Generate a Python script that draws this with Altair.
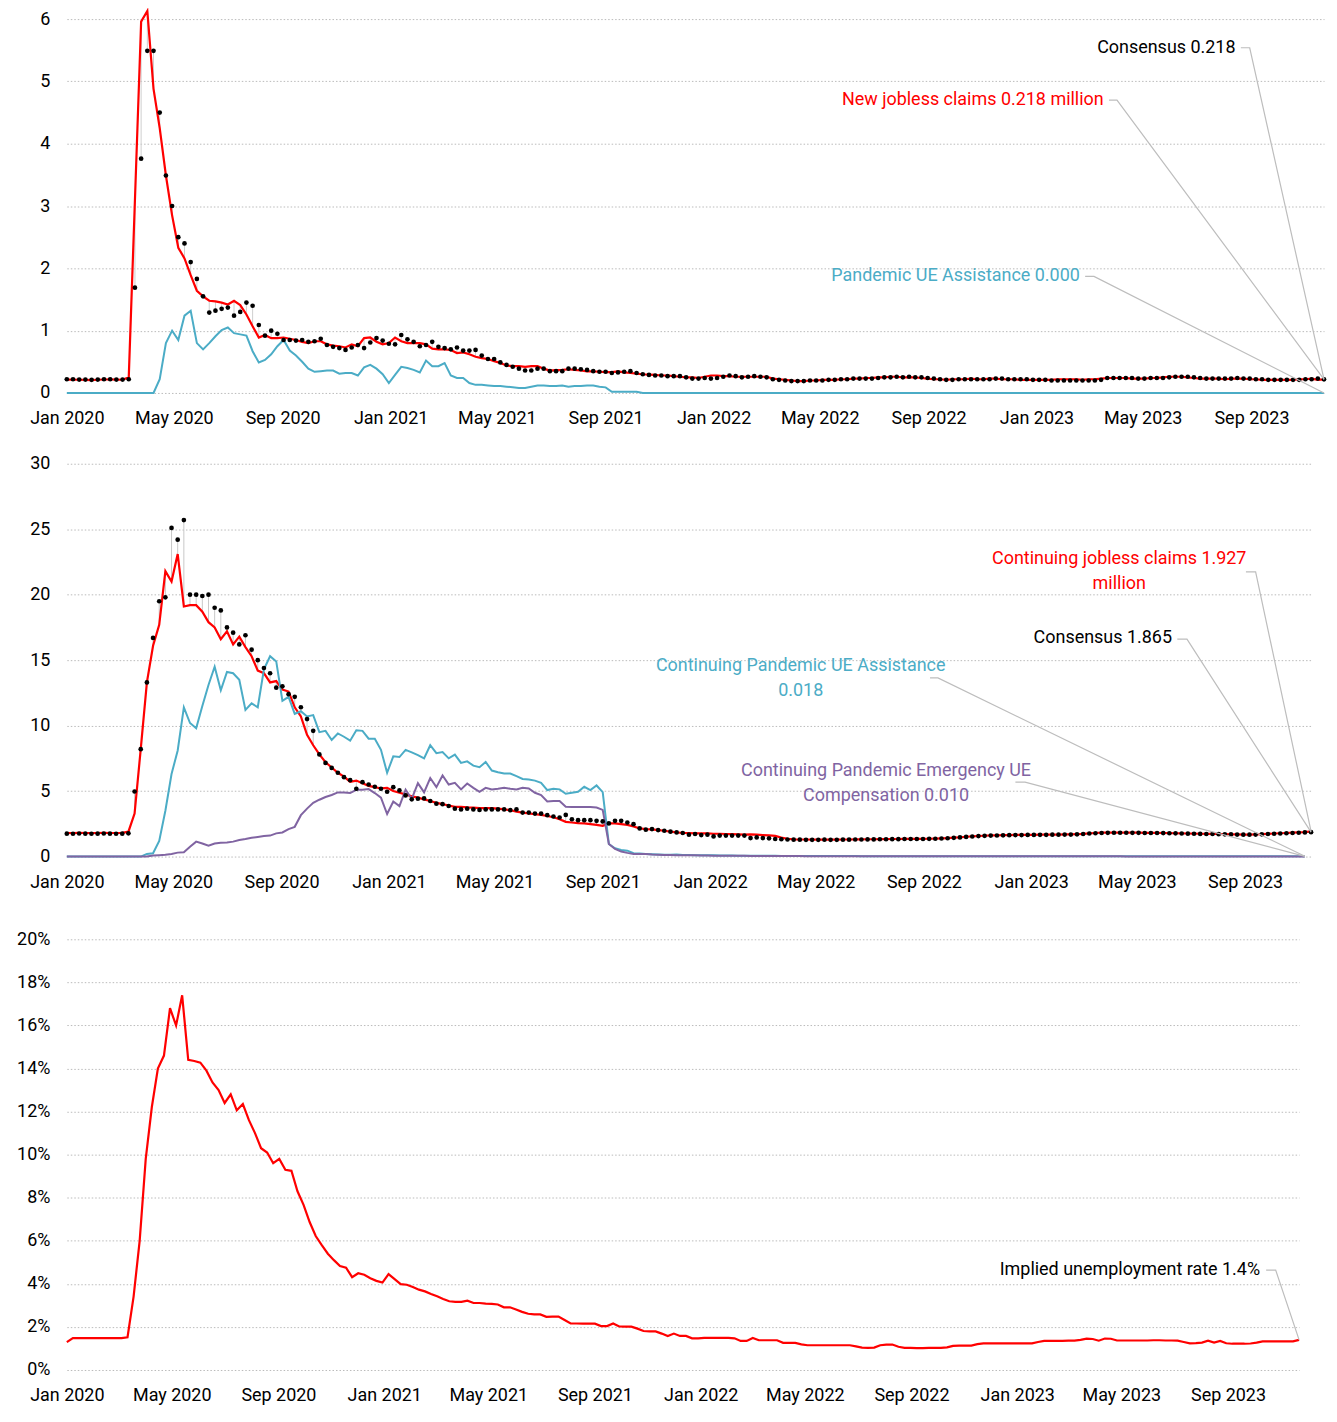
import altair as alt
import pandas as pd

FONT = "Roboto"
RED = "#ff0000"
BLUE = "#4bacc6"
PURPLE = "#8064a2"
GRID = "#bbbbbb"
LEADER = "#bdbdbd"

# ---------------- data (weekly, starting 2020-01-01) ----------------
claims_actual = [
    0.214, 0.216, 0.212, 0.210, 0.206, 0.212, 0.216, 0.218, 0.214, 0.212,
    0.25, 3.10, 5.96, 6.13, 4.88, 4.25, 3.49, 2.85, 2.33, 2.16,
    1.89, 1.64, 1.55, 1.48, 1.47, 1.45, 1.42, 1.48, 1.41, 1.26,
    1.07, 0.89, 0.93, 0.88, 0.88, 0.89, 0.87, 0.85, 0.82, 0.80,
    0.83, 0.83, 0.78, 0.76, 0.75, 0.73, 0.78, 0.75, 0.88, 0.89,
    0.82, 0.78, 0.80, 0.89, 0.83, 0.80, 0.80, 0.80, 0.78, 0.71,
    0.70, 0.70, 0.69, 0.64, 0.65, 0.62, 0.58, 0.56, 0.545, 0.51,
    0.48, 0.44, 0.43, 0.43, 0.42, 0.43, 0.43, 0.39, 0.36, 0.365,
    0.37, 0.38, 0.37, 0.36, 0.345, 0.345, 0.34, 0.335, 0.335, 0.345,
    0.33, 0.32, 0.31, 0.30, 0.295, 0.29, 0.28, 0.28, 0.27, 0.26,
    0.25, 0.25, 0.24, 0.26, 0.28, 0.28, 0.27, 0.27, 0.26, 0.26,
    0.26, 0.26, 0.26, 0.26,
    0.23, 0.22, 0.21, 0.20, 0.19, 0.19, 0.20,
    0.20, 0.21, 0.21, 0.21, 0.22, 0.22, 0.23, 0.23, 0.24, 0.24,
    0.25, 0.25, 0.26, 0.26, 0.25, 0.25, 0.25, 0.24, 0.23, 0.22,
    0.22, 0.21, 0.22, 0.22, 0.22, 0.23, 0.22, 0.22, 0.23, 0.23,
    0.22, 0.22, 0.22, 0.21, 0.21, 0.21, 0.21, 0.21, 0.21, 0.22,
    0.22, 0.22, 0.22, 0.21, 0.22, 0.22, 0.23, 0.24, 0.24, 0.24,
    0.24, 0.23, 0.23, 0.23, 0.24, 0.24, 0.25, 0.26, 0.26, 0.26,
    0.25, 0.24, 0.23, 0.23, 0.23, 0.23, 0.22, 0.23, 0.23, 0.23,
    0.22, 0.22, 0.21, 0.21, 0.21, 0.21, 0.21, 0.21, 0.22, 0.22,
    0.23, 0.21, 0.218,
]
claims_consensus = [
    0.22, 0.22, 0.215, 0.215, 0.21, 0.215, 0.22, 0.22, 0.215, 0.215,
    0.22, 1.69, 3.76, 5.49, 5.49, 4.50, 3.49, 3.00, 2.50, 2.40,
    2.10, 1.83, 1.55, 1.29, 1.32, 1.35, 1.37, 1.24, 1.30, 1.45,
    1.40, 1.09, 0.92, 1.00, 0.95, 0.85, 0.85, 0.84, 0.85, 0.82,
    0.83, 0.87, 0.77, 0.74, 0.72, 0.69, 0.73, 0.77, 0.72, 0.81,
    0.88, 0.84, 0.79, 0.78, 0.93, 0.86, 0.82, 0.75, 0.77, 0.82,
    0.74, 0.72, 0.70, 0.73, 0.68, 0.68, 0.69, 0.60, 0.545, 0.545,
    0.49, 0.45, 0.42, 0.39, 0.36, 0.36, 0.39, 0.39, 0.35, 0.35,
    0.35, 0.39, 0.39, 0.38, 0.37, 0.35, 0.34, 0.34, 0.32, 0.33,
    0.34, 0.35, 0.32, 0.30, 0.29, 0.28, 0.28, 0.27, 0.27, 0.27,
    0.25, 0.23, 0.23, 0.24, 0.23, 0.24, 0.26, 0.28, 0.27, 0.25,
    0.26, 0.27, 0.26, 0.25,
    0.22, 0.21, 0.20, 0.19, 0.19, 0.19, 0.20,
    0.20, 0.20, 0.21, 0.21, 0.22, 0.22, 0.23, 0.23, 0.23, 0.23,
    0.24, 0.25, 0.25, 0.26, 0.25, 0.26, 0.25, 0.25, 0.24, 0.23,
    0.22, 0.21, 0.21, 0.22, 0.22, 0.22, 0.22, 0.22, 0.22, 0.23,
    0.23, 0.22, 0.22, 0.22, 0.22, 0.21, 0.21, 0.21, 0.20, 0.20,
    0.20, 0.20, 0.20, 0.20, 0.20, 0.20, 0.21, 0.24, 0.24, 0.24,
    0.24, 0.24, 0.23, 0.23, 0.24, 0.24, 0.24, 0.25, 0.26, 0.26,
    0.26, 0.25, 0.24, 0.23, 0.23, 0.23, 0.23, 0.23, 0.24, 0.23,
    0.23, 0.22, 0.22, 0.21, 0.21, 0.21, 0.21, 0.21, 0.21, 0.22,
    0.22, 0.23, 0.218,
]
pua_initial = [0.0] * 15 + [
    0.22, 0.80, 1.00, 0.85, 1.24, 1.32, 0.80, 0.70, 0.80, 0.91,
    1.01, 1.05, 0.96, 0.94, 0.92, 0.67, 0.49, 0.53, 0.62, 0.75,
    0.85, 0.68, 0.60, 0.50, 0.39, 0.34, 0.35, 0.36, 0.36, 0.31,
    0.32, 0.32, 0.28, 0.41, 0.45, 0.39, 0.30, 0.16, 0.29, 0.42,
    0.40, 0.37, 0.33, 0.52, 0.43, 0.43, 0.48, 0.28, 0.24, 0.24,
    0.16, 0.13, 0.13, 0.12, 0.11, 0.11, 0.10, 0.09, 0.08, 0.08,
    0.10, 0.12, 0.12, 0.11, 0.11, 0.12, 0.10, 0.11, 0.11, 0.12,
    0.12, 0.10, 0.09, 0.02, 0.02, 0.02, 0.02, 0.02,
] + [0.0] * 111

cont_actual = [
    1.80, 1.79, 1.81, 1.80, 1.79, 1.80, 1.81, 1.80, 1.80, 1.81,
    1.90, 3.28, 8.2, 13.3, 16.1, 17.7, 21.8, 21.0, 23.1, 19.1,
    19.2, 19.2, 18.7, 17.9, 17.5, 16.6, 17.2, 16.2, 16.8, 16.0,
    15.3, 14.2, 14.0, 13.3, 13.4, 12.75, 12.6, 11.4, 10.7, 9.3,
    8.5, 7.8, 7.2, 6.8, 6.4, 6.1, 5.7, 5.8, 5.6, 5.4,
    5.3, 5.2, 5.25, 5.0, 4.87, 4.75, 4.6, 4.5, 4.37, 4.24,
    4.1, 4.0, 3.9, 3.8, 3.8, 3.76, 3.74, 3.7, 3.7, 3.7,
    3.66, 3.6, 3.54, 3.43, 3.36, 3.3, 3.23, 3.18, 3.1, 3.0,
    2.85, 2.65, 2.6, 2.55, 2.53, 2.47, 2.42, 2.35, 2.53, 2.53,
    2.47, 2.42, 2.3, 2.15, 2.1, 2.07, 2.02, 1.97, 1.9, 1.84,
    1.8, 1.8, 1.77, 1.77, 1.77, 1.74, 1.74, 1.72, 1.72, 1.7,
    1.67, 1.7, 1.67, 1.64, 1.62, 1.58, 1.45, 1.36,
    1.31, 1.30, 1.30, 1.29, 1.29, 1.30, 1.29, 1.29, 1.30, 1.30,
    1.31, 1.31, 1.32, 1.32, 1.33, 1.33, 1.34, 1.34, 1.35, 1.35,
    1.35, 1.35, 1.36, 1.37, 1.39, 1.41, 1.44, 1.47, 1.51, 1.54,
    1.57, 1.59, 1.61, 1.62, 1.63, 1.64, 1.65, 1.65, 1.66, 1.66,
    1.67, 1.67, 1.68, 1.68, 1.69, 1.69, 1.71, 1.73, 1.77, 1.80,
    1.82, 1.83, 1.83, 1.83, 1.83, 1.82, 1.82, 1.81, 1.81, 1.81,
    1.80, 1.79, 1.78, 1.77, 1.76, 1.75, 1.74, 1.73, 1.73, 1.72,
    1.71, 1.70, 1.69, 1.68, 1.68, 1.69, 1.71, 1.73, 1.76, 1.78,
    1.80, 1.83, 1.85, 1.87, 1.927,
]
cont_consensus = [
    1.75, 1.74, 1.76, 1.75, 1.74, 1.75, 1.76, 1.75, 1.74, 1.75,
    1.77, 4.97, 8.2, 13.3, 16.7, 19.5, 19.8, 25.1, 24.2, 25.7,
    20.0, 20.0, 19.9, 20.0, 19.0, 18.8, 17.5, 17.1, 16.2, 16.9,
    15.8, 15.0, 14.4, 14.0, 12.9, 13.0, 12.4, 12.2, 11.4, 10.5,
    9.6, 7.8, 7.15, 6.77, 6.4, 6.06, 5.83, 5.18, 5.68, 5.5,
    5.33, 5.18, 4.95, 5.3, 5.05, 4.67, 4.37, 4.42, 4.44, 4.24,
    4.04, 4.0, 3.86, 3.66, 3.6, 3.66, 3.6, 3.56, 3.6, 3.6,
    3.6, 3.6, 3.54, 3.6, 3.36, 3.36, 3.28, 3.28, 3.16, 3.06,
    2.98, 3.18, 2.85, 2.78, 2.78, 2.78, 2.73, 2.68, 2.53, 2.73,
    2.73, 2.6, 2.47, 2.15, 2.05, 2.1, 2.02, 1.97, 1.9, 1.84,
    1.8, 1.67, 1.72, 1.64, 1.67, 1.54, 1.6, 1.6, 1.6, 1.6,
    1.6, 1.41, 1.46, 1.41, 1.39, 1.34, 1.32, 1.30,
    1.29, 1.29, 1.28, 1.28, 1.28, 1.29, 1.28, 1.28, 1.29, 1.29,
    1.30, 1.30, 1.31, 1.31, 1.32, 1.32, 1.33, 1.33, 1.34, 1.34,
    1.34, 1.34, 1.35, 1.36, 1.38, 1.40, 1.43, 1.46, 1.50, 1.53,
    1.56, 1.58, 1.60, 1.61, 1.62, 1.63, 1.64, 1.64, 1.65, 1.65,
    1.66, 1.66, 1.67, 1.67, 1.68, 1.68, 1.70, 1.72, 1.76, 1.78,
    1.80, 1.81, 1.82, 1.82, 1.82, 1.81, 1.81, 1.80, 1.80, 1.80,
    1.79, 1.78, 1.77, 1.76, 1.75, 1.74, 1.73, 1.72, 1.72, 1.71,
    1.70, 1.69, 1.68, 1.67, 1.67, 1.68, 1.70, 1.72, 1.74, 1.76,
    1.78, 1.80, 1.82, 1.84, 1.865,
]
cont_pua = [0.0] * 13 + [
    0.2, 0.25, 1.2, 3.5, 6.3, 8.1, 11.4, 10.2, 9.8, 11.5,
    13.1, 14.5, 12.7, 14.1, 14.0, 13.5, 11.2, 11.7, 11.4, 14.3,
    15.3, 14.9, 11.9, 12.2, 10.9, 11.1, 10.7, 10.8, 9.5, 9.6,
    8.9, 9.4, 9.15, 8.85, 9.65, 9.6, 9.0, 9.0, 8.15, 6.4,
    7.65, 7.6, 8.15, 7.95, 7.75, 7.5, 8.5, 7.9, 7.98, 7.5,
    7.78, 7.15, 7.27, 6.94, 6.82, 7.22, 6.57, 6.44, 6.34, 6.34,
    6.14, 5.93, 5.88, 5.8, 5.63, 5.08, 5.18, 5.13, 4.8, 4.87,
    4.95, 5.33, 5.08, 5.43, 4.92, 0.96, 0.63, 0.5, 0.45, 0.25,
    0.23, 0.2, 0.18, 0.15, 0.13, 0.13, 0.15, 0.12,
    0.11, 0.10, 0.10, 0.09, 0.09, 0.08, 0.08, 0.08, 0.07, 0.07,
    0.07, 0.06, 0.06, 0.06, 0.06, 0.05, 0.05, 0.05, 0.05, 0.05,
    0.05, 0.04, 0.04, 0.04, 0.04, 0.04, 0.04, 0.04, 0.03, 0.03,
    0.03, 0.03, 0.03, 0.03, 0.03, 0.03, 0.03, 0.03, 0.03, 0.03,
    0.03, 0.03, 0.03, 0.03, 0.02, 0.02, 0.02, 0.02, 0.02, 0.02,
    0.02, 0.02, 0.02, 0.02, 0.02, 0.02, 0.02, 0.02, 0.02, 0.02,
    0.02, 0.02, 0.02, 0.02, 0.02, 0.02, 0.02, 0.02, 0.02, 0.02,
    0.02, 0.02, 0.02, 0.02, 0.02, 0.02, 0.02, 0.02, 0.02, 0.02,
    0.02, 0.02, 0.02, 0.02, 0.02, 0.02, 0.02, 0.02, 0.02, 0.02,
    0.02, 0.02, 0.02, 0.02, 0.02, 0.02, 0.02, 0.02, 0.02, 0.02, 0.018,
]
cont_peuc = [0.0] * 14 + [
    0.08, 0.1, 0.13, 0.2, 0.3, 0.33, 0.75, 1.14, 1.0, 0.83,
    1.0, 1.06, 1.08, 1.14, 1.26, 1.34, 1.44, 1.5, 1.57, 1.6,
    1.77, 1.84, 2.1, 2.27, 3.16, 3.66, 4.1, 4.34, 4.55, 4.7,
    4.9, 4.9, 4.85, 5.1, 5.1, 5.15, 4.85, 4.5, 3.25, 4.2,
    3.85, 5.1, 4.4, 5.6, 4.9, 6.0, 5.3, 6.19, 5.5, 5.63,
    5.13, 5.58, 5.25, 4.95, 5.25, 5.13, 5.18, 5.25, 5.18, 5.13,
    5.25, 5.2, 4.87, 4.7, 4.2, 4.24, 4.24, 3.8, 3.79, 3.79,
    3.79, 3.79, 3.74, 3.56, 0.96, 0.58, 0.38, 0.28, 0.2, 0.2,
    0.2, 0.15, 0.13,
    0.12, 0.11, 0.10, 0.10, 0.09, 0.09, 0.08, 0.08, 0.07, 0.07,
    0.07, 0.06, 0.06, 0.06, 0.05, 0.05, 0.05, 0.05, 0.04, 0.04,
    0.04, 0.04, 0.04, 0.03, 0.03, 0.03, 0.03, 0.03, 0.03, 0.03,
    0.03, 0.02, 0.02, 0.02, 0.02, 0.02, 0.02, 0.02, 0.02, 0.02,
    0.02, 0.02, 0.02, 0.02, 0.02, 0.02, 0.02, 0.02, 0.02, 0.02,
    0.02, 0.02, 0.02, 0.02, 0.02, 0.02, 0.015, 0.015, 0.015, 0.015,
    0.015, 0.015, 0.015, 0.015, 0.015, 0.015, 0.015, 0.015, 0.015, 0.015,
    0.015, 0.015, 0.015, 0.015, 0.015, 0.012, 0.012, 0.012, 0.012, 0.012,
    0.012, 0.012, 0.012, 0.012, 0.012, 0.012, 0.012, 0.012, 0.012, 0.012,
    0.012, 0.012, 0.012, 0.012, 0.012, 0.011, 0.011, 0.011, 0.011, 0.011,
    0.011, 0.011, 0.010, 0.010, 0.010,
]
implied_rate = [
    1.29, 1.48, 1.48, 1.48, 1.48, 1.48, 1.48, 1.48, 1.48, 1.48,
    1.52, 3.41, 6.0, 9.8, 12.2, 14.0, 14.6, 16.8, 16.0, 17.4,
    14.4, 14.35, 14.27, 13.9, 13.35, 13.0, 12.4, 12.8, 12.06, 12.35,
    11.6, 11.0, 10.3, 10.1, 9.6, 9.8, 9.3, 9.25, 8.3, 7.67,
    6.87, 6.22, 5.8, 5.4, 5.1, 4.83, 4.75, 4.31, 4.49, 4.42,
    4.26, 4.14, 4.06, 4.45, 4.22, 3.99, 3.96, 3.85, 3.73, 3.65,
    3.53, 3.42, 3.30, 3.19, 3.16, 3.16, 3.22, 3.11, 3.11, 3.08,
    3.07, 3.04, 2.91, 2.91, 2.81, 2.70, 2.61, 2.58, 2.58, 2.47,
    2.48, 2.48, 2.32, 2.16, 2.16, 2.15, 2.15, 2.15, 2.04, 2.04,
    2.16, 2.02, 2.01, 2.01, 1.92, 1.81, 1.79, 1.79, 1.69, 1.58,
    1.69, 1.58, 1.58, 1.47, 1.47, 1.49, 1.49, 1.49, 1.49, 1.49,
    1.47, 1.35, 1.35, 1.49, 1.38, 1.38, 1.38, 1.38,
    1.26, 1.26, 1.26,
    1.19, 1.15, 1.15, 1.15, 1.15, 1.15, 1.15, 1.15, 1.15, 1.10,
    1.04, 1.03, 1.04, 1.15, 1.18, 1.18, 1.08, 1.03, 1.03, 1.02,
    1.02, 1.03, 1.03, 1.03, 1.05, 1.12, 1.13, 1.13, 1.13, 1.20,
    1.24, 1.24, 1.24, 1.24, 1.24, 1.24, 1.24, 1.24, 1.24, 1.30,
    1.35, 1.35, 1.35, 1.35, 1.36, 1.36, 1.40, 1.46, 1.44, 1.36,
    1.46, 1.45, 1.37, 1.37, 1.37, 1.37, 1.37, 1.37, 1.38, 1.38,
    1.37, 1.37, 1.36, 1.30, 1.24, 1.25, 1.27, 1.36, 1.27, 1.35,
    1.24, 1.22, 1.22, 1.22, 1.23, 1.27, 1.33, 1.33, 1.33, 1.33,
    1.33, 1.33, 1.40,
]

assert len(claims_actual) == 204 and len(claims_consensus) == 204 and len(pua_initial) == 204
assert len(cont_actual) == 203 and len(cont_consensus) == 203
assert len(cont_pua) == 202 and len(cont_peuc) == 202
assert len(implied_rate) == 204

START = pd.Timestamp("2020-01-01")
claims_dates = pd.date_range(START, periods=204, freq="7D")
cont_dates = pd.date_range(START, periods=203, freq="7D")
pand_dates = pd.date_range(START, periods=202, freq="7D")
rate_dates = pd.date_range(START, periods=204, freq="7D")

df1 = pd.DataFrame({"date": claims_dates, "actual": claims_actual,
                    "consensus": claims_consensus, "pua": pua_initial})
df2 = pd.DataFrame({"date": cont_dates, "actual": cont_actual, "consensus": cont_consensus})
df2p = pd.DataFrame({"date": pand_dates, "pua": cont_pua, "peuc": cont_peuc})
df3 = pd.DataFrame({"date": rate_dates, "rate": implied_rate})


def day(n):
    return START + pd.Timedelta(days=n)


# annotation label anchors (day offset, value) and leader polylines
ann1 = pd.DataFrame({
    "label": ["Consensus 0.218", "New jobless claims 0.218 million", "Pandemic UE Assistance 0.000"],
    "date": [day(1321), day(1172), day(1145)],
    "value": [5.54, 4.70, 1.87],
    "color": ["#000000", RED, BLUE],
})
lead1 = pd.DataFrame({
    "name": ["a"] * 3 + ["b"] * 3 + ["c"] * 3,
    "seq": [0, 1, 2] * 3,
    "date": [day(1327), day(1337), claims_dates[-1],
             day(1178), day(1187), claims_dates[-1],
             day(1151), day(1161), claims_dates[-1]],
    "value": [5.54, 5.54, claims_consensus[-1],
              4.70, 4.70, claims_actual[-1],
              1.87, 1.87, pua_initial[-1]],
})

ann2_right = pd.DataFrame({
    "label": ["Consensus 1.865"], "date": [day(1256)], "value": [16.67], "color": ["#000000"],
})
ann2_center = pd.DataFrame({
    "label": ["Continuing jobless claims 1.927\nmillion",
              "Continuing Pandemic UE Assistance\n0.018",
              "Continuing Pandemic Emergency UE\nCompensation 0.010"],
    "date": [day(1196), day(834), day(931)],
    "value": [22.73, 14.55, 6.52],
    "color": [RED, BLUE, PURPLE],
})
lead2 = pd.DataFrame({
    "name": ["a"] * 3 + ["b"] * 3 + ["c"] * 3 + ["d"] * 3,
    "seq": [0, 1, 2] * 4,
    "date": [day(1340), day(1351), cont_dates[-1],
             day(1262), day(1273), cont_dates[-1],
             day(981), day(990), pand_dates[-1],
             day(1078), day(1089), pand_dates[-1]],
    "value": [21.74, 21.74, cont_actual[-1],
              16.6, 16.6, cont_consensus[-1],
              13.64, 13.64, cont_pua[-1],
              5.68, 5.68, cont_peuc[-1]],
})

ann3 = pd.DataFrame({
    "label": ["Implied unemployment rate 1.4%"], "date": [day(1376)], "value": [4.64], "color": ["#000000"],
})
lead3 = pd.DataFrame({
    "name": ["a"] * 3, "seq": [0, 1, 2],
    "date": [day(1383), day(1394), rate_dates[-1]],
    "value": [4.64, 4.64, implied_rate[-1]],
})

LABEL_SIZE = 18


def xenc(end):
    return alt.X(
        "date:T", title=None,
        scale=alt.Scale(domain=[alt.DateTime(year=2020, month=1, date=1),
                                alt.DateTime(year=end.year, month=end.month, date=end.day)]),
        axis=alt.Axis(format="%b %Y", tickCount={"interval": "month", "step": 4},
                      grid=False, domain=False, ticks=False, labelPadding=17,
                      labelFontSize=LABEL_SIZE, labelFont=FONT, labelColor="#000000",
                      labelFlush=False, labelOverlap=False),
    )


def yenc(field, domain, values, label_expr=None):
    kw = dict(values=values, grid=True, gridDash=[1.5, 2], gridColor=GRID, gridWidth=1,
              domain=False, ticks=False, labelPadding=17, minExtent=59, title=None,
              labelFontSize=LABEL_SIZE, labelFont=FONT, labelColor="#000000")
    if label_expr:
        kw["labelExpr"] = label_expr
    return alt.Y(field, title=None, scale=alt.Scale(domain=domain, nice=False), axis=alt.Axis(**kw))


def text_layer(df, end, domain, values, align, label_expr=None):
    return alt.Chart(df).mark_text(
        align=align, baseline="middle", font=FONT, fontSize=LABEL_SIZE, lineBreak="\n", lineHeight=25
    ).encode(x=xenc(end), y=yenc("value:Q", domain, values, label_expr),
             text="label:N", color=alt.Color("color:N", scale=None))


def leader_layer(df, end, domain, values, label_expr=None):
    return alt.Chart(df).mark_line(color=LEADER, strokeWidth=1.2).encode(
        x=xenc(end), y=yenc("value:Q", domain, values, label_expr),
        detail="name:N", order="seq:Q")


# ---------------- panel 1 ----------------
end1 = claims_dates[-1]
d1, v1 = [0, 6], list(range(0, 7))
b1 = alt.Chart(df1)
p1 = alt.layer(
    b1.mark_rule(color="#cfcfcf", strokeWidth=1).encode(
        x=xenc(end1), y=yenc("consensus:Q", d1, v1), y2="actual:Q"),
    b1.mark_line(color=BLUE, strokeWidth=2).encode(x=xenc(end1), y=yenc("pua:Q", d1, v1)),
    b1.mark_line(color=RED, strokeWidth=2.2).encode(x=xenc(end1), y=yenc("actual:Q", d1, v1)),
    b1.mark_circle(color="#000000", size=22, opacity=1).encode(
        x=xenc(end1), y=yenc("consensus:Q", d1, v1)),
    leader_layer(lead1, end1, d1, v1),
    text_layer(ann1, end1, d1, v1, "right"),
).properties(width=1261, height=375)

# ---------------- panel 2 ----------------
end2 = cont_dates[-1]
d2, v2 = [0, 30], list(range(0, 31, 5))
b2 = alt.Chart(df2)
b2p = alt.Chart(df2p)
p2 = alt.layer(
    b2.mark_rule(color="#c8c8c8", strokeWidth=1).encode(
        x=xenc(end2), y=yenc("consensus:Q", d2, v2), y2="actual:Q"),
    b2.mark_line(color=RED, strokeWidth=2.2).encode(x=xenc(end2), y=yenc("actual:Q", d2, v2)),
    b2p.mark_line(color=BLUE, strokeWidth=2).encode(x=xenc(end2), y=yenc("pua:Q", d2, v2)),
    b2p.mark_line(color=PURPLE, strokeWidth=2).encode(x=xenc(end2), y=yenc("peuc:Q", d2, v2)),
    b2.mark_circle(color="#000000", size=22, opacity=1).encode(
        x=xenc(end2), y=yenc("consensus:Q", d2, v2)),
    leader_layer(lead2, end2, d2, v2),
    text_layer(ann2_right, end2, d2, v2, "right"),
    text_layer(ann2_center, end2, d2, v2, "center"),
).properties(width=1248, height=394)

# ---------------- panel 3 ----------------
end3 = rate_dates[-1]
d3, v3 = [0, 20], list(range(0, 21, 2))
pct = "datum.value + '%'"
p3 = alt.layer(
    alt.Chart(df3).mark_line(color=RED, strokeWidth=2.2).encode(
        x=xenc(end3), y=yenc("rate:Q", d3, v3, pct)),
    leader_layer(lead3, end3, d3, v3, pct),
    text_layer(ann3, end3, d3, v3, "right", pct),
).properties(width=1236, height=432)

chart = alt.vconcat(
    alt.vconcat(p1, p2, spacing=27),
    p3, spacing=39,
).properties(
    padding={"left": 0, "right": 0, "top": -4, "bottom": 0},
).configure(font=FONT).configure_view(strokeWidth=0, stroke="transparent")

chart.save("out.html", embed_options={"renderer": "svg", "actions": False})
